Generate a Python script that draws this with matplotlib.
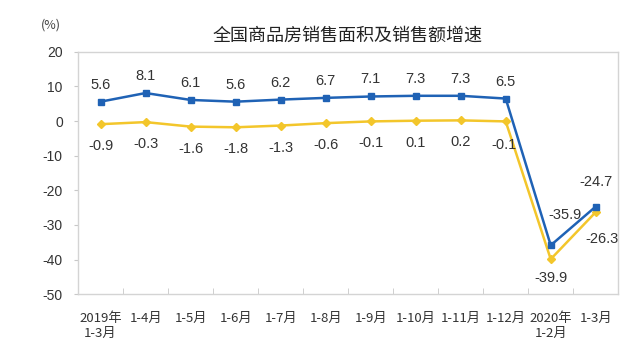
import matplotlib
matplotlib.use('Agg')
import matplotlib.pyplot as plt
import numpy as np

plt.rcParams['font.family'] = ['Noto Sans CJK SC', 'DejaVu Sans']

categories = ['2019年\n1-3月', '1-4月', '1-5月', '1-6月', '1-7月', '1-8月',
              '1-9月', '1-10月', '1-11月', '1-12月', '2020年\n1-2月', '1-3月']
area_growth = [5.6, 8.1, 6.1, 5.6, 6.2, 6.7, 7.1, 7.3, 7.3, 6.5, -35.9, -24.7]
sales_growth = [-0.9, -0.3, -1.6, -1.8, -1.3, -0.6, -0.1, 0.1, 0.2, -0.1, -39.9, -26.3]
y_ticks = [20, 10, 0, -10, -20, -30, -40, -50]

blue = '#1f62b5'
yellow = '#f3c62b'

fig = plt.figure(figsize=(6.4, 3.6), dpi=100)
ax = fig.add_axes([0.122, 0.183, 0.844, 0.673])

x = np.arange(len(categories))
ax.plot(x, area_growth, color=blue, lw=1.8, marker='s', ms=4.8, zorder=3)
ax.plot(x, sales_growth, color=yellow, lw=1.8, marker='D', ms=4.0, zorder=2)

# label offsets in pixels
blue_off = [(0, 17)] * 10 + [(14, 30), (0, 25)]
yellow_off = [(0, -22)] * 9 + [(-2, -24), (0, -19), (6, -27)]
for i in range(len(x)):
    ax.annotate(f'{area_growth[i]:.1f}', (x[i], area_growth[i]),
                xytext=blue_off[i], textcoords='offset pixels',
                ha='center', va='center', fontsize=10.5, color='#333333',
                family=['Liberation Sans'])
    ax.annotate(f'{sales_growth[i]:.1f}', (x[i], sales_growth[i]),
                xytext=yellow_off[i], textcoords='offset pixels',
                ha='center', va='center', fontsize=10.5, color='#333333',
                family=['Liberation Sans'])

ax.set_xlim(-0.5, len(categories) - 0.5)
ax.set_ylim(-50, 20)
ax.set_yticks(y_ticks)
ax.set_yticklabels([str(v) for v in y_ticks], fontsize=10, color='#333333',
                   family=['Liberation Sans'])

ax.set_xticks(x)
ax.set_xticklabels(categories, fontsize=9.5, color='#333333', linespacing=1.2)
ax.set_xticks(np.arange(0.5, len(categories) - 0.5, 1), minor=True)
ax.tick_params(axis='x', which='major', length=0, pad=13)
ax.tick_params(axis='x', which='minor', direction='in', length=4, color='#c8c8c8')
ax.tick_params(axis='y', length=3, color='#c8c8c8', pad=8)

for s in ax.spines.values():
    s.set_color('#d4d4d4')
    s.set_linewidth(1.0)

fig.text(0.543, 0.90, '全国商品房销售面积及销售额增速', ha='center', va='center',
         fontsize=13, color='#222222')
fig.text(0.079, 0.93, '(%)', ha='center', va='center', fontsize=9, color='#444444')

fig.savefig('out.png', dpi=100)
